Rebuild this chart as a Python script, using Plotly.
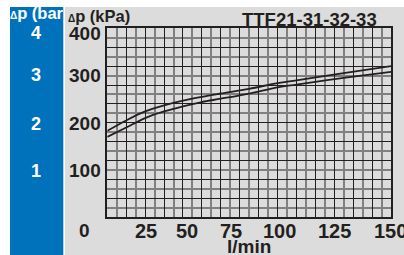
import plotly.graph_objects as go

# ---- data ----
flow = [0, 10, 20, 30, 40, 50, 60, 75, 90, 100, 125, 150]          # l/min
dp_upper = [183, 205, 224, 237, 247, 255, 262, 272, 284, 290, 305, 320]  # kPa
dp_lower = [170, 190, 210, 224, 235, 244, 251, 262, 275, 281, 295, 308]  # kPa

x_tick_vals = [25, 50, 75, 100, 125, 150]
x_tick_labels = ["25", "50", "75", "100", "125", "150"]
y_tick_vals = [0, 100, 200, 300, 400]
y_tick_labels = ["0", "100", "200", "300", "400"]
bar_tick_vals = [1, 2, 3, 4]
bar_tick_labels = ["1", "2", "3", "4"]
title_text = "TTF21-31-32-33"
x_title = "l/min"

# ---- style ----
W, H = 404, 255
INK = "#231f20"
BLUE = "#0072bc"
GRAY = "#dcdcdc"
FONT = "Liberation Sans"

def px(x):
    return x / W

def py(y):
    return 1 - y / H

x_shifts = [-8.6, -14.4, -18.2, -16.7, -9.7, -1]
y_shifts = [-12.7, -0.7, -1, 0.5, -5]
bar_shifts = [-0.7, -1, 0.5, -5]

fig = go.Figure()

for ys in (dp_upper, dp_lower):
    fig.add_trace(go.Scatter(
        x=flow, y=ys, mode="lines", line=dict(color=INK, width=1.8, shape="spline"),
        hoverinfo="skip", showlegend=False, xaxis="x", yaxis="y"))

# clipped unit label in the blue band
fig.add_trace(go.Scatter(
    x=[10], y=[14.5], mode="text",
    text=["<span style='font-size:10px'>Δ</span>p (bar)"],
    textposition="middle right",
    textfont=dict(family=FONT, size=16.5, color="white", weight="bold"),
    marker=dict(size=1), cliponaxis=True, hoverinfo="skip", showlegend=False,
    xaxis="x2", yaxis="y2"))

axis_common = dict(showticklabels=False, ticks="", zeroline=False,
                   showline=True, mirror=True, linecolor=INK, linewidth=1.5,
                   showgrid=True, gridcolor=INK, gridwidth=1)

fig.update_layout(
    width=W, height=H,
    margin=dict(l=0, r=0, t=0, b=0),
    paper_bgcolor="white", plot_bgcolor="rgba(0,0,0,0)",
    xaxis=dict(domain=[px(107.3), px(391)], range=[0, 150], dtick=10, tick0=0,
               minor=dict(dtick=5, showgrid=True, gridcolor="#808080", gridwidth=2),
               **axis_common),
    yaxis=dict(domain=[py(217.3), py(28.3)], range=[0, 400], dtick=40, tick0=0,
               minor=dict(dtick=20, showgrid=True, gridcolor="#808080", gridwidth=2),
               **axis_common),
    xaxis2=dict(domain=[px(10), px(63.3)], range=[10, 63.3], visible=False, anchor="y2"),
    yaxis2=dict(domain=[0, py(7)], range=[255, 7], visible=False, anchor="x2"),
    shapes=[
        dict(type="rect", xref="paper", yref="paper", x0=px(65), x1=1, y0=0, y1=py(7),
             fillcolor=GRAY, line=dict(width=0), layer="below"),
        dict(type="rect", xref="paper", yref="paper", x0=px(10), x1=px(63.3), y0=0, y1=py(7),
             fillcolor=BLUE, line=dict(width=0), layer="below"),
    ],
)

ann = []
for v, t, s in zip(y_tick_vals, y_tick_labels, y_shifts):
    ann.append(dict(xref="paper", yref="y", x=px(84.5), y=v, yshift=s, text=t,
                    showarrow=False, xanchor="center", yanchor="middle",
                    font=dict(family=FONT, size=19, color=INK, weight="bold")))
for v, t, s in zip(bar_tick_vals, bar_tick_labels, bar_shifts):
    ann.append(dict(xref="paper", yref="y", x=px(36), y=v * 100, yshift=s, text=t,
                    showarrow=False, xanchor="center", yanchor="middle",
                    font=dict(family=FONT, size=18, color="white", weight="bold")))
for v, t, s in zip(x_tick_vals, x_tick_labels, x_shifts):
    ann.append(dict(xref="x", yref="paper", x=v, y=py(231), xshift=s, text=t,
                    showarrow=False, xanchor="center", yanchor="middle",
                    font=dict(family=FONT, size=20, color=INK, weight="bold")))
ann.append(dict(xref="x", yref="paper", x=75, y=py(246), text=x_title,
                showarrow=False, xanchor="center", yanchor="middle",
                font=dict(family=FONT, size=19, color=INK, weight="bold")))
ann.append(dict(xref="paper", yref="paper", x=px(309.7), y=py(20), text=title_text,
                showarrow=False, xanchor="center", yanchor="middle",
                font=dict(family=FONT, size=18.5, color=INK, weight="bold")))
ann.append(dict(xref="paper", yref="paper", x=px(66), y=py(15.5),
                text="<span style='font-size:10px'>Δ</span>p (kPa)",
                showarrow=False, xanchor="left", yanchor="middle",
                font=dict(family=FONT, size=16.5, color=INK, weight="bold")))
fig.update_layout(annotations=ann)

fig.write_html("out.html", config={"displayModeBar": False},
               post_script="document.body.style.margin='0';")
